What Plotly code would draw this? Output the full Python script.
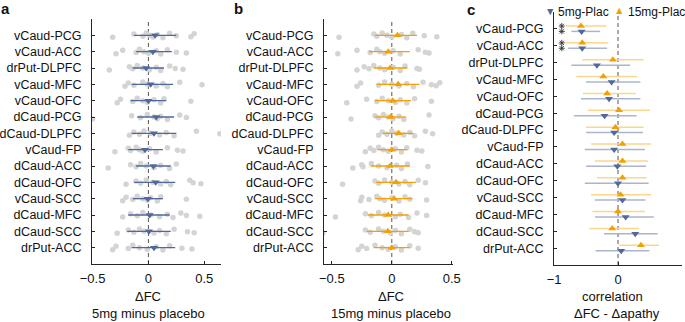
import plotly.graph_objects as go

ROWS = ["vCaud-PCG", "vCaud-ACC", "drPut-DLPFC", "vCaud-MFC", "vCaud-OFC", "dCaud-PCG",
        "dCaud-DLPFC", "vCaud-FP", "dCaud-ACC", "dCaud-OFC", "vCaud-SCC", "dCaud-MFC",
        "dCaud-SCC", "drPut-ACC"]

# Panel a: individual dFC (5mg minus placebo)
DOTS_5MG = [
    [-0.32, -0.13, -0.05, -0.02, 0.01, 0.04, 0.08, 0.13, 0.19, 0.25, 0.38, 0.41],
    [-0.29, -0.23, -0.11, -0.08, -0.04, 0.0, 0.07, 0.11, 0.17, 0.25, 0.34],
    [-0.35, -0.17, -0.14, -0.10, -0.05, 0.01, 0.07, 0.11, 0.19, 0.24, 0.31],
    [-0.21, -0.18, -0.13, -0.05, -0.01, 0.07, 0.13, 0.17, 0.28, 0.48],
    [-0.28, -0.25, -0.14, -0.10, -0.05, -0.01, 0.05, 0.11, 0.14, 0.38],
    [-0.50, -0.15, -0.07, -0.01, 0.05, 0.08, 0.11, 0.17, 0.28, 0.34],
    [-0.17, -0.13, -0.08, -0.04, 0.02, 0.10, 0.16, 0.23, 0.43, 0.64],
    [-0.30, -0.18, -0.16, -0.11, -0.08, -0.05, 0.01, 0.07, 0.17, 0.26, 0.31],
    [-0.36, -0.16, -0.11, -0.07, -0.02, 0.05, 0.11, 0.19, 0.25],
    [-0.20, -0.11, -0.07, -0.02, 0.04, 0.11, 0.16, 0.20, 0.37, 0.40, 0.47],
    [-0.23, -0.20, -0.14, -0.10, -0.05, -0.01, 0.02, 0.08, 0.11, 0.34],
    [-0.23, -0.16, -0.10, -0.05, 0.02, 0.10, 0.17, 0.22, 0.29, 0.34, 0.46],
    [-0.28, -0.18, -0.13, -0.08, -0.04, 0.05, 0.10, 0.16, 0.23, 0.35, 0.41],
    [-0.32, -0.29, -0.18, -0.14, -0.08, -0.01, 0.07, 0.13, 0.19, 0.30, 0.39],
]
MEAN_5MG = [0.06, 0.04, -0.02, 0.02, 0.0, 0.07, 0.05, -0.03, 0.045, 0.066, -0.005, 0.01, 0.005, 0.05]
LO_5MG = [-0.13, -0.11, -0.14, -0.15, -0.16, -0.10, -0.15, -0.18, -0.11, -0.13, -0.14, -0.18, -0.19, -0.15]
HI_5MG = [0.25, 0.21, 0.14, 0.22, 0.16, 0.23, 0.25, 0.13, 0.20, 0.24, 0.13, 0.19, 0.20, 0.24]

# Panel b: individual dFC (15mg minus placebo)
DOTS_15MG = [
    [-0.44, -0.15, -0.125, -0.08, -0.04, 0.0, 0.08, 0.125, 0.175, 0.27, 0.375],
    [-0.45, -0.29, -0.18, -0.125, -0.10, -0.06, 0.01, 0.07, 0.22, 0.28, 0.31],
    [-0.29, -0.23, -0.19, -0.15, -0.10, -0.06, 0.01, 0.07, 0.11, 0.21, 0.23],
    [-0.29, -0.26, -0.11, -0.06, 0.0, 0.06, 0.125, 0.18, 0.26, 0.33, 0.37, 0.40],
    [-0.375, -0.21, -0.125, -0.08, -0.03, 0.03, 0.07, 0.125, 0.19, 0.33],
    [-0.34, -0.14, -0.11, -0.07, -0.03, 0.01, 0.06, 0.10, 0.31],
    [-0.11, -0.08, -0.04, 0.0, 0.04, 0.10, 0.15, 0.19, 0.28, 0.34],
    [-0.22, -0.18, -0.15, -0.11, -0.07, -0.03, 0.03, 0.08, 0.125, 0.21, 0.25],
    [-0.325, -0.25, -0.24, -0.17, -0.11, -0.04, 0.04, 0.08, 0.13, 0.30],
    [-0.41, -0.14, -0.11, -0.06, 0.0, 0.06, 0.11, 0.15, 0.22, 0.28],
    [-0.26, -0.25, -0.19, -0.125, -0.10, -0.06, 0.0, 0.06, 0.11, 0.15, 0.29],
    [-0.47, -0.22, -0.17, -0.11, -0.06, 0.03, 0.07, 0.14, 0.21, 0.29],
    [-0.575, -0.22, -0.18, -0.11, -0.07, -0.01, 0.03, 0.08, 0.15, 0.19, 0.22],
    [-0.28, -0.25, -0.21, -0.14, -0.08, -0.03, 0.03, 0.08, 0.15, 0.22],
]
MEAN_15MG = [0.047, -0.03, -0.014, 0.053, 0.008, -0.008, 0.058, 0.0, -0.014, 0.036, 0.02, -0.03, -0.033, 0.0]
LO_15MG = [-0.14, -0.19, -0.15, -0.125, -0.14, -0.14, -0.075, -0.12, -0.175, -0.13, -0.14, -0.20, -0.21, -0.15]
HI_15MG = [0.21, 0.15, 0.13, 0.23, 0.16, 0.12, 0.18, 0.13, 0.15, 0.20, 0.17, 0.14, 0.14, 0.15]

# Panel c: correlation dFC - dapathy
R_5MG = [-0.57, -0.56, -0.33, -0.10, -0.14, -0.21, -0.06, -0.06, -0.01, 0.0, 0.07, 0.12, 0.27, 0.05]
R_5MG_LO = [-0.73, -0.78, -0.73, -0.50, -0.58, -0.69, -0.50, -0.52, -0.50, -0.52, -0.36, -0.36, -0.22, -0.35]
R_5MG_HI = [-0.28, -0.17, 0.19, 0.35, 0.35, 0.29, 0.39, 0.42, 0.44, 0.48, 0.43, 0.56, 0.62, 0.49]
R_15MG = [-0.58, -0.56, -0.08, -0.23, -0.17, 0.016, -0.04, 0.07, 0.07, 0.07, 0.04, 0.0, -0.09, 0.36]
R_15MG_LO = [-0.82, -0.82, -0.56, -0.65, -0.55, -0.47, -0.50, -0.42, -0.36, -0.33, -0.42, -0.40, -0.45, 0.02]
R_15MG_HI = [-0.18, -0.15, 0.40, 0.30, 0.28, 0.50, 0.40, 0.52, 0.47, 0.45, 0.52, 0.42, 0.33, 0.64]
SIG_ROWS = ["vCaud-PCG", "vCaud-ACC"]
LEGEND = ["5mg-Plac", "15mg-Plac"]

# ---- style ----
W, H = 685, 322
BLUE = "#51689b"
BLUE_LIGHT = "#aab4cc"
ORANGE = "#f5a000"
ORANGE_LIGHT = "#fcd58e"
GRAY = "#d4d4d4"
AXC = "#262626"
FONT = "Arial, Liberation Sans, sans-serif"
JITTER = [0.12, -0.08, 0.05, -0.15, 0.0, 0.1, -0.05, 0.15, -0.12, 0.03, 0.08, -0.1]
OFF_15, OFF_5 = -0.17, 0.15
STAR_X = -0.88

ypos = {name: i + 1 for i, name in enumerate(ROWS)}


def px_x(x):
    return x / W


def px_y(y):
    return 1 - y / H


fig = go.Figure()

# panels a and b: dots + mean + CI
for ax, dots, mean, lo, hi, col, sym in [
    ("", DOTS_5MG, MEAN_5MG, LO_5MG, HI_5MG, BLUE, "triangle-down"),
    ("2", DOTS_15MG, MEAN_15MG, LO_15MG, HI_15MG, ORANGE, "triangle-up"),
]:
    dx, dy = [], []
    for name, row in zip(ROWS, dots):
        for j, v in enumerate(row):
            dx.append(v)
            dy.append(ypos[name] + JITTER[j % len(JITTER)])
    fig.add_trace(go.Scatter(x=dx, y=dy, mode="markers", xaxis="x" + ax, yaxis="y" + ax,
                             marker=dict(size=5.5, color=GRAY), showlegend=False,
                             cliponaxis=True))
    fig.add_trace(go.Scatter(
        x=mean, y=[ypos[n] for n in ROWS], mode="markers", xaxis="x" + ax, yaxis="y" + ax,
        marker=dict(symbol=sym, size=7, color=col, line=dict(width=0)),
        error_x=dict(type="data", symmetric=False,
                     array=[h - m for h, m in zip(hi, mean)],
                     arrayminus=[m - l for m, l in zip(mean, lo)],
                     width=0, thickness=1.3, color=col),
        showlegend=False))

# panel c
for vals, lo, hi, col, lcol, sym, off in [
    (R_15MG, R_15MG_LO, R_15MG_HI, ORANGE, ORANGE_LIGHT, "triangle-up", OFF_15),
    (R_5MG, R_5MG_LO, R_5MG_HI, BLUE, BLUE_LIGHT, "triangle-down", OFF_5),
]:
    fig.add_trace(go.Scatter(
        x=vals, y=[ypos[n] + off for n in ROWS], mode="markers", xaxis="x3", yaxis="y3",
        marker=dict(symbol=sym, size=7, color=col, line=dict(width=0)),
        error_x=dict(type="data", symmetric=False,
                     array=[h - m for h, m in zip(hi, vals)],
                     arrayminus=[m - l for m, l in zip(vals, lo)],
                     width=0, thickness=1.5, color=lcol),
        showlegend=False))

sx, sy = [], []
for n in SIG_ROWS:
    for off in (OFF_15, OFF_5):
        sx.append(STAR_X)
        sy.append(ypos[n] + off)
fig.add_trace(go.Scatter(x=sx, y=sy, mode="markers", xaxis="x3", yaxis="y3",
                         marker=dict(symbol="asterisk-open", size=5, color="#333",
                                     line=dict(width=0.9, color="#333")),
                         showlegend=False, cliponaxis=False))

# axes
panels = [
    ("", [92, 221], [19, 264], [-0.505, 0.65], [-0.5, 0, 0.5], ["\u22120.5", "0", "0.5"]),
    ("2", [324, 453], [19, 264], [-0.565, 0.51], [-0.5, 0, 0.5], ["\u22120.5", "0", "0.5"]),
    ("3", [554, 682], [12, 265], [-1.002, 1.002], [-1, 0, 1], ["\u22121", "0", "1"]),
]
layout = {}
for ax, xd, yd, xr, tv, tt in panels:
    xa = "xaxis" + ax
    ya = "yaxis" + ax
    layout[xa] = dict(domain=[px_x(xd[0]), px_x(xd[1])], range=xr, anchor="y" + ax,
                      tickvals=tv, ticktext=tt, ticks="inside", ticklen=3, tickcolor=AXC,
                      showline=True, linecolor=AXC, linewidth=1, showgrid=False,
                      zeroline=False, tickfont=dict(size=13, color="#111", family=FONT),
                      ticklabelstandoff=2, automargin=False)
    layout[ya] = dict(domain=[px_y(yd[1]), px_y(yd[0])], range=[15, 0], anchor="x" + ax,
                      tickvals=[ypos[n] for n in ROWS], ticktext=ROWS, ticks="inside",
                      ticklen=3, tickcolor=AXC, showline=True, linecolor=AXC, linewidth=1,
                      showgrid=False, zeroline=False,
                      tickfont=dict(size=12.5, color="#111", family=FONT),
                      ticklabelstandoff=7, automargin=False)

shapes = []
for ax in ["", "2", "3"]:
    shapes.append(dict(type="line", xref="x" + ax, yref=("y" + ax) + " domain",
                       x0=0, x1=0, y0=0, y1=1, layer="below",
                       line=dict(color="#555", width=1, dash="4px,3px")))

annotations = []


def text(x, y, s, size=13, xanchor="center", color="#111"):
    annotations.append(dict(xref="paper", yref="paper", x=px_x(x), y=px_y(y), text=s,
                            showarrow=False, xanchor=xanchor, yanchor="middle",
                            font=dict(size=size, family=FONT, color=color)))


text(5, 8, "<b>a</b>", 15)
text(238, 8, "<b>b</b>", 15)
text(471, 9, "<b>c</b>", 15)
text(148, 296, "ΔFC", 13)
text(148, 313, "5mg minus placebo", 13)
text(391, 296, "ΔFC", 13)
text(391, 313, "15mg minus placebo", 13)
text(612, 296, "correlation", 13)
text(617, 313, "ΔFC - Δapathy", 13)
# legend
text(550, 11, "▼", 10.5, color=BLUE)
text(556, 12, LEGEND[0], 12, xanchor="left")
text(619, 10, "▲", 10.5, color=ORANGE)
text(626, 12, LEGEND[1], 12, xanchor="left")

fig.update_layout(width=W, height=H, margin=dict(l=0, r=0, t=0, b=0, autoexpand=False),
                  paper_bgcolor="white", plot_bgcolor="white", showlegend=False,
                  hovermode=False,
                  shapes=shapes, annotations=annotations, font=dict(family=FONT), **layout)

fig.write_html("out.html", config={"displayModeBar": False, "staticPlot": True},
               post_script="document.body.style.margin='0px';document.body.style.overflow='hidden';")
